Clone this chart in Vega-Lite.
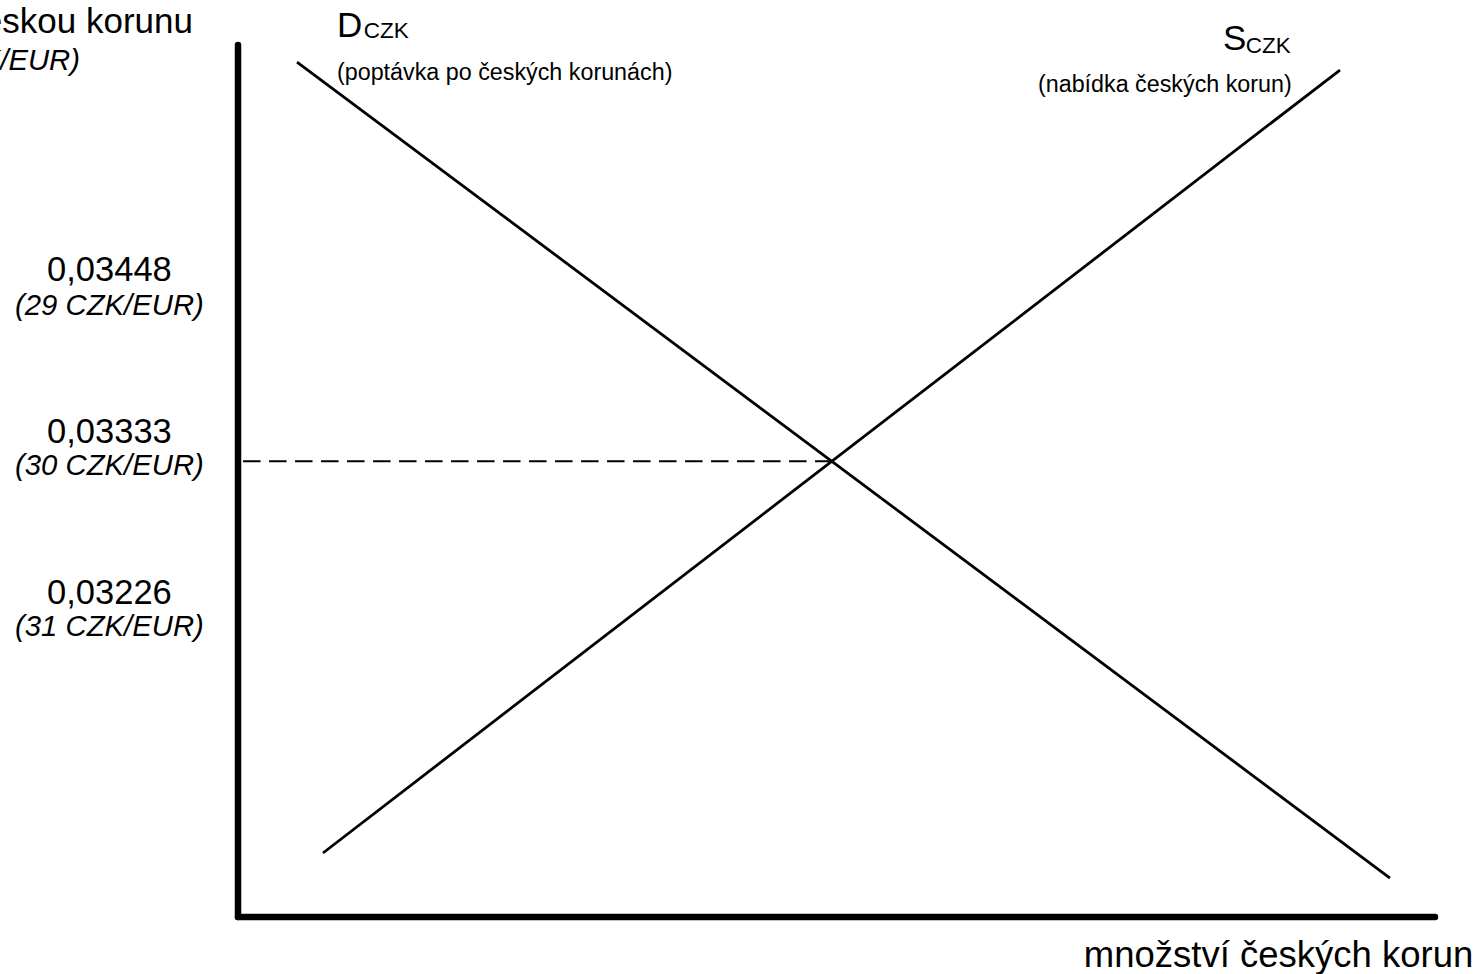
{
  "$schema": "https://vega.github.io/schema/vega-lite/v6.json",
  "autosize": {"type": "none"},
  "padding": {"left": 238, "top": 45, "right": 48, "bottom": 57},
  "width": 1197,
  "height": 872,
  "background": "white",
  "config": {"view": {"stroke": null}, "font": "Liberation Sans"},
  "layer": [
    {
      "data": {"values": [
        {"axis": "y", "q": 0, "q2": 0, "v": 0, "v2": 100},
        {"axis": "x", "q": 0, "q2": 100, "v": 0, "v2": 0}
      ]},
      "mark": {"type": "rule", "strokeWidth": 6.5, "strokeCap": "round", "color": "black", "clip": false},
      "encoding": {
        "x": {"field": "q", "type": "quantitative", "scale": {"domain": [0, 100], "nice": false, "zero": false}, "axis": null},
        "x2": {"field": "q2"},
        "y": {"field": "v", "type": "quantitative", "scale": {"domain": [0, 100], "nice": false, "zero": false}, "axis": null},
        "y2": {"field": "v2"}
      }
    },
    {
      "data": {"values": [
        {"series": "D", "q": 4.93, "v": 98.05},
        {"series": "D", "q": 96.24, "v": 4.47},
        {"series": "S", "q": 7.10, "v": 7.34},
        {"series": "S", "q": 92.06, "v": 97.13}
      ]},
      "mark": {"type": "line", "strokeWidth": 2.8, "color": "black", "clip": false},
      "encoding": {
        "x": {"field": "q", "type": "quantitative", "axis": null},
        "y": {"field": "v", "type": "quantitative", "axis": null},
        "detail": {"field": "series"}
      }
    },
    {
      "data": {"values": [
        {"q": 0.42, "q2": 49.54, "v": 52.26}
      ]},
      "mark": {"type": "rule", "strokeWidth": 2, "strokeDash": [17.5, 8.5], "color": "black", "clip": false},
      "encoding": {
        "x": {"field": "q", "type": "quantitative", "axis": null},
        "x2": {"field": "q2"},
        "y": {"field": "v", "type": "quantitative", "axis": null}
      }
    },
    {
      "data": {"values": [
        {"q": -10.74, "v": 72.88, "label": "0,03448"},
        {"q": -10.74, "v": 54.36, "label": "0,03333"},
        {"q": -10.74, "v": 35.89, "label": "0,03226"}
      ]},
      "mark": {"type": "text", "align": "center", "baseline": "alphabetic", "fontSize": 34.5, "color": "black", "clip": false},
      "encoding": {
        "x": {"field": "q", "type": "quantitative", "axis": null},
        "y": {"field": "v", "type": "quantitative", "axis": null},
        "text": {"field": "label"}
      }
    },
    {
      "data": {"values": [
        {"q": -10.74, "v": 69.04, "label": "(29 CZK/EUR)"},
        {"q": -10.74, "v": 50.69, "label": "(30 CZK/EUR)"},
        {"q": -10.74, "v": 32.22, "label": "(31 CZK/EUR)"}
      ]},
      "mark": {"type": "text", "align": "center", "baseline": "alphabetic", "fontSize": 29.3, "fontStyle": "italic", "color": "black", "clip": false},
      "encoding": {
        "x": {"field": "q", "type": "quantitative", "axis": null},
        "y": {"field": "v", "type": "quantitative", "axis": null},
        "text": {"field": "label"}
      }
    },
    {
      "data": {"values": [
        {"q": -3.76, "v": 101.38, "label": "cena za českou korunu"}
      ]},
      "mark": {"type": "text", "align": "right", "baseline": "alphabetic", "fontSize": 35, "color": "black", "clip": false},
      "encoding": {
        "x": {"field": "q", "type": "quantitative", "axis": null},
        "y": {"field": "v", "type": "quantitative", "axis": null},
        "text": {"field": "label"}
      }
    },
    {
      "data": {"values": [
        {"q": -13.2, "v": 97.13, "label": "(CZK/EUR)"}
      ]},
      "mark": {"type": "text", "align": "right", "baseline": "alphabetic", "fontSize": 29.3, "fontStyle": "italic", "color": "black", "clip": false},
      "encoding": {
        "x": {"field": "q", "type": "quantitative", "axis": null},
        "y": {"field": "v", "type": "quantitative", "axis": null},
        "text": {"field": "label"}
      }
    },
    {
      "data": {"values": [
        {"q": 8.27, "v": 100.92, "label": "D"},
        {"q": 82.29, "v": 99.43, "label": "S"}
      ]},
      "mark": {"type": "text", "align": "left", "baseline": "alphabetic", "fontSize": 35, "color": "black", "clip": false},
      "encoding": {
        "x": {"field": "q", "type": "quantitative", "axis": null},
        "y": {"field": "v", "type": "quantitative", "axis": null},
        "text": {"field": "label"}
      }
    },
    {
      "data": {"values": [
        {"q": 10.5, "v": 100.77, "label": "CZK"},
        {"q": 84.2, "v": 99.08, "label": "CZK"}
      ]},
      "mark": {"type": "text", "align": "left", "baseline": "alphabetic", "fontSize": 22.5, "color": "black", "clip": false},
      "encoding": {
        "x": {"field": "q", "type": "quantitative", "axis": null},
        "y": {"field": "v", "type": "quantitative", "axis": null},
        "text": {"field": "label"}
      }
    },
    {
      "data": {"values": [
        {"q": 8.27, "v": 95.99, "label": "(poptávka po českých korunách)"},
        {"q": 66.83, "v": 94.61, "label": "(nabídka českých korun)"}
      ]},
      "mark": {"type": "text", "align": "left", "baseline": "alphabetic", "fontSize": 23.3, "color": "black", "clip": false},
      "encoding": {
        "x": {"field": "q", "type": "quantitative", "axis": null},
        "y": {"field": "v", "type": "quantitative", "axis": null},
        "text": {"field": "label"}
      }
    },
    {
      "data": {"values": [
        {"q": 103.2, "v": -5.73, "label": "množství českých korun"}
      ]},
      "mark": {"type": "text", "align": "right", "baseline": "alphabetic", "fontSize": 36.5, "color": "black", "clip": false},
      "encoding": {
        "x": {"field": "q", "type": "quantitative", "axis": null},
        "y": {"field": "v", "type": "quantitative", "axis": null},
        "text": {"field": "label"}
      }
    }
  ]
}
